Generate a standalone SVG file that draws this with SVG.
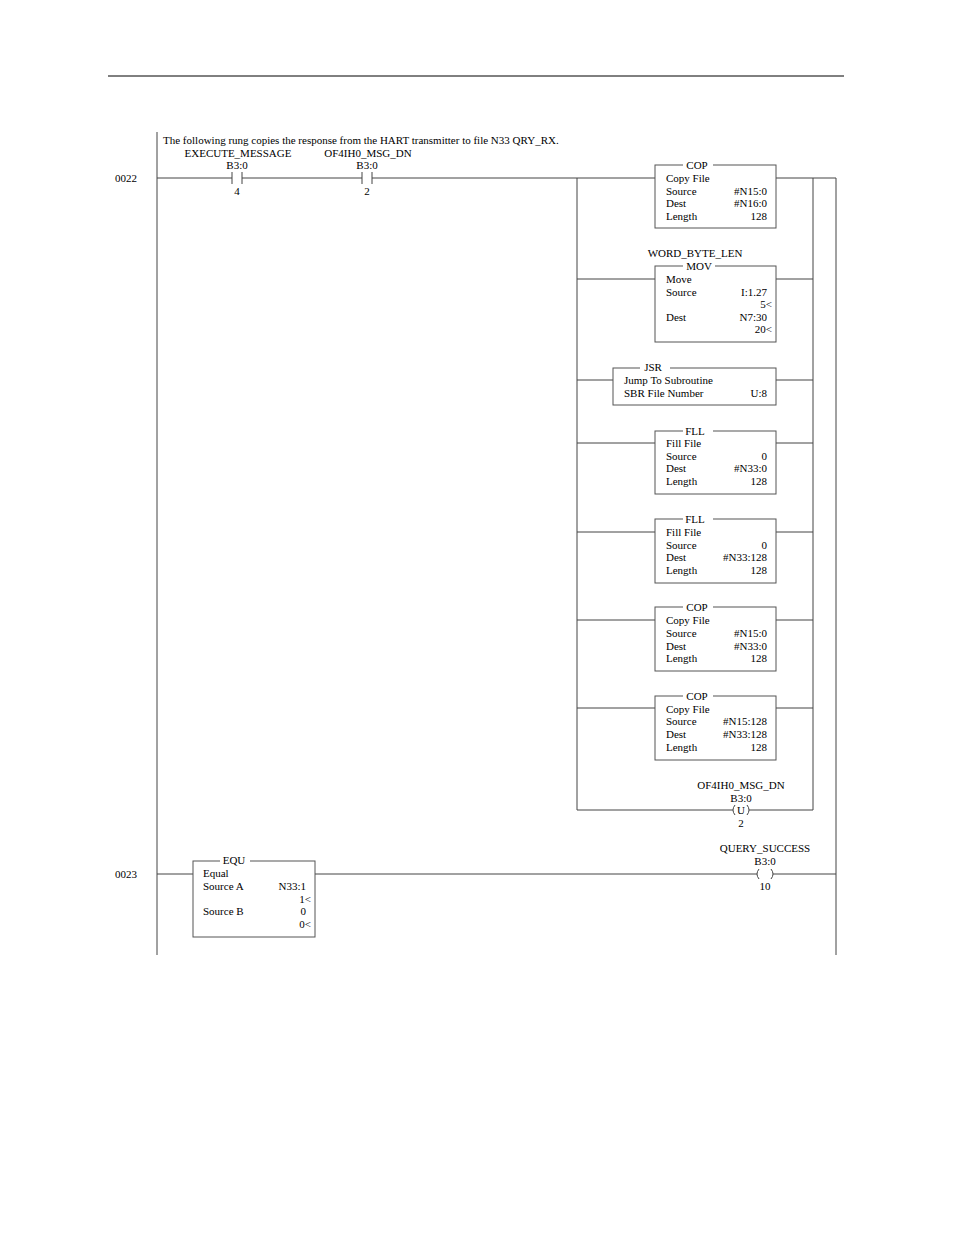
<svg xmlns="http://www.w3.org/2000/svg" width="954" height="1235" viewBox="0 0 954 1235">
<style>
text{font-family:"Liberation Serif",serif;font-size:11px;fill:#000}
.l{stroke:#444;stroke-width:1;fill:none}
.b{fill:#fff;stroke:#555;stroke-width:1}
.m{text-anchor:middle}
.e{text-anchor:end}
</style>
<rect width="954" height="1235" fill="#fff"/>
<line x1="108" y1="76" x2="844" y2="76" stroke="#000"/>
<g id="connectors" class="l">
<line x1="157" y1="132" x2="157" y2="955"/>
<line x1="836" y1="178" x2="836" y2="955"/>
<path d="M157 178H232M242 178H362M372 178H577"/>
<path d="M232 172V184M242 172V184M362 172V184M372 172V184"/>
<path d="M577 178V810M813 178V810M813 178H836"/>
<path d="M577 178H655M776 178H813"/>
<path d="M577 279H655M776 279H813"/>
<path d="M577 380H613M776 380H813"/>
<path d="M577 443H655M776 443H813"/>
<path d="M577 532H655M776 532H813"/>
<path d="M577 620H655M776 620H813"/>
<path d="M577 708H655M776 708H813"/>
<path d="M577 810H733M749 810H813"/>
<path d="M157 874H193M315 874H757M773 874H836"/>
<path d="M735 805Q731 810 735 815M747 805Q751 810 747 815"/>
<path d="M759 869Q755 874 759 879M771 869Q775 874 771 879"/>
</g>
<text x="163" y="144">The following rung copies the response from the HART transmitter to file N33 QRY_RX.</text>
<text x="115" y="182">0022</text>
<text x="115" y="878">0023</text>
<g id="c1"><text x="238" y="157" class="m">EXECUTE_MESSAGE</text><text x="237" y="169" class="m">B3:0</text><text x="237" y="195" class="m">4</text></g>
<g id="c2"><text x="368" y="157" class="m">OF4IH0_MSG_DN</text><text x="367" y="169" class="m">B3:0</text><text x="367" y="195" class="m">2</text></g>
<g id="cop1"><rect class="b" x="655" y="165" width="121" height="63"/><rect x="683" y="160" width="30" height="10" fill="#fff"/><text x="697" y="169" class="m">COP</text><text x="666" y="182">Copy File</text><text x="666" y="195">Source</text><text x="767" y="195" class="e">#N15:0</text><text x="666" y="207">Dest</text><text x="767" y="207" class="e">#N16:0</text><text x="666" y="220">Length</text><text x="767" y="220" class="e">128</text></g>
<g id="mov"><text x="695" y="257" class="m">WORD_BYTE_LEN</text><rect class="b" x="655" y="266" width="121" height="76"/><rect x="683" y="261" width="32" height="10" fill="#fff"/><text x="699" y="270" class="m">MOV</text><text x="666" y="283">Move</text><text x="666" y="296">Source</text><text x="767" y="296" class="e">I:1.27</text><text x="772" y="308" class="e">5&lt;</text><text x="666" y="321">Dest</text><text x="767" y="321" class="e">N7:30</text><text x="772" y="333" class="e">20&lt;</text></g>
<g id="jsr"><rect class="b" x="613" y="368" width="163" height="37"/><rect x="640" y="363" width="30" height="10" fill="#fff"/><text x="653" y="371" class="m">JSR</text><text x="624" y="384">Jump To Subroutine</text><text x="624" y="397">SBR File Number</text><text x="767" y="397" class="e">U:8</text></g>
<g id="fll1"><rect class="b" x="655" y="431" width="121" height="63"/><rect x="683" y="426" width="30" height="10" fill="#fff"/><text x="695" y="435" class="m">FLL</text><text x="666" y="447">Fill File</text><text x="666" y="460">Source</text><text x="767" y="460" class="e">0</text><text x="666" y="472">Dest</text><text x="767" y="472" class="e">#N33:0</text><text x="666" y="485">Length</text><text x="767" y="485" class="e">128</text></g>
<g id="fll2"><rect class="b" x="655" y="519" width="121" height="64"/><rect x="683" y="514" width="30" height="10" fill="#fff"/><text x="695" y="523" class="m">FLL</text><text x="666" y="536">Fill File</text><text x="666" y="549">Source</text><text x="767" y="549" class="e">0</text><text x="666" y="561">Dest</text><text x="767" y="561" class="e">#N33:128</text><text x="666" y="574">Length</text><text x="767" y="574" class="e">128</text></g>
<g id="cop2"><rect class="b" x="655" y="607" width="121" height="64"/><rect x="683" y="602" width="30" height="10" fill="#fff"/><text x="697" y="611" class="m">COP</text><text x="666" y="624">Copy File</text><text x="666" y="637">Source</text><text x="767" y="637" class="e">#N15:0</text><text x="666" y="650">Dest</text><text x="767" y="650" class="e">#N33:0</text><text x="666" y="662">Length</text><text x="767" y="662" class="e">128</text></g>
<g id="cop3"><rect class="b" x="655" y="696" width="121" height="64"/><rect x="683" y="691" width="30" height="10" fill="#fff"/><text x="697" y="700" class="m">COP</text><text x="666" y="713">Copy File</text><text x="666" y="725">Source</text><text x="767" y="725" class="e">#N15:128</text><text x="666" y="738">Dest</text><text x="767" y="738" class="e">#N33:128</text><text x="666" y="751">Length</text><text x="767" y="751" class="e">128</text></g>
<g id="coilU"><text x="741" y="789" class="m">OF4IH0_MSG_DN</text><text x="741" y="802" class="m">B3:0</text><text x="741" y="814" class="m" font-size="10">U</text><text x="741" y="827" class="m">2</text></g>
<g id="equ"><rect class="b" x="193" y="861" width="122" height="76"/><rect x="220" y="856" width="30" height="10" fill="#fff"/><text x="234" y="864" class="m">EQU</text><text x="203" y="877">Equal</text><text x="203" y="890">Source A</text><text x="306" y="890" class="e">N33:1</text><text x="311" y="903" class="e">1&lt;</text><text x="203" y="915">Source B</text><text x="306" y="915" class="e">0</text><text x="311" y="928" class="e">0&lt;</text></g>
<g id="coil2"><text x="765" y="852" class="m">QUERY_SUCCESS</text><text x="765" y="865" class="m">B3:0</text><text x="765" y="890" class="m">10</text></g>
</svg>
